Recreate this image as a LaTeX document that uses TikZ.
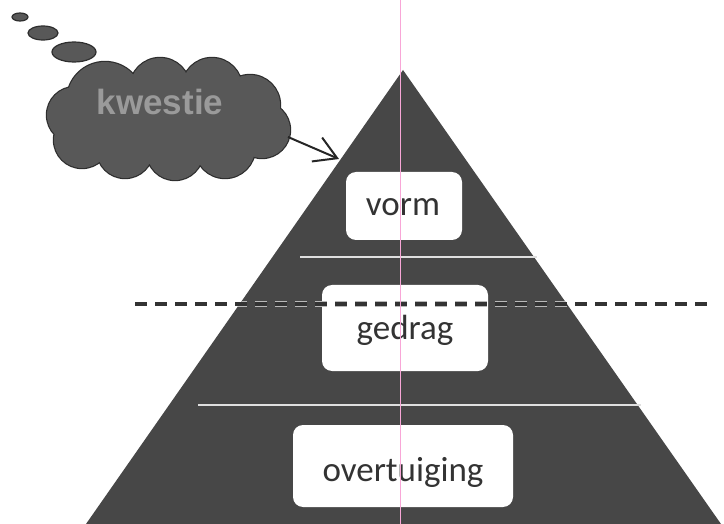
\documentclass[tikz,border=0pt]{standalone}
\usepackage{fontspec}
\setmainfont{Carlito}
\newfontfamily\kwfont{Liberation Sans}
\usetikzlibrary{arrows.meta}
\definecolor{pyr}{HTML}{474747}
\definecolor{cloudfill}{HTML}{585858}
\definecolor{cloudline}{HTML}{2E2E2E}
\definecolor{boxtext}{HTML}{333333}
\definecolor{kwtext}{HTML}{9A9A9A}
\tikzset{
  layerbox/.style={fill=white, rounded corners=10pt, inner sep=0pt},
  layertext/.style={anchor=base, inner sep=0pt, text=boxtext, font=\fontsize{35}{40}\selectfont},
  bubble/.style={fill=cloudfill, draw=cloudline, line width=1.2pt},
  divider/.style={draw=gray!25, line width=1.6pt},
  boundary/.style={dash pattern=on 12pt off 8pt, line width=3.5pt, draw=black!80},
  thinkarrow/.style={draw=black!85, line width=2pt, -{Straight Barb[length=22pt,width=26pt]}},
}
\begin{document}
\begin{tikzpicture}[x=1pt,y=-1pt]
\useasboundingbox (0,0) rectangle (724,524);
% pyramid
\coordinate (apex) at (403,70);
\coordinate (bl) at (86,524);
\coordinate (br) at (721,524);
\fill[pyr] (apex) -- (bl) -- (br) -- cycle;
% dividers
\coordinate (d1l) at (300,257); \coordinate (d1r) at (537,257);
\coordinate (d2l) at (198,405); \coordinate (d2r) at (641,405);
\draw[divider] (d1l) -- (d1r);
\draw[divider] (d2l) -- (d2r);
% boxes
\node[layerbox, minimum width=116pt, minimum height=68pt] (vormbox) at (404,206) {};
\node[layerbox, minimum width=166pt, minimum height=86pt] (gedragbox) at (405,328) {};
\node[layerbox, minimum width=220pt, minimum height=82pt] (overtbox) at (403,466) {};
\node[layertext] (vorm) at (403,216) {vorm};
\node[layertext] (gedrag) at (405,340) {gedrag};
\node[layertext] (overt) at (403,481) {overtuiging};
% dashed boundary
\coordinate (dl) at (135,304); \coordinate (dr) at (714,304);
\begin{scope}
\clip (apex) -- (bl) -- (br) -- cycle;
\draw[boundary, draw=gray!55, line width=5.5pt] (dl) -- (dr);
\end{scope}
\draw[boundary] (dl) -- (dr);
% thought bubbles
\draw[bubble] (20,17) ellipse [x radius=8, y radius=4];
\draw[bubble] (43,33) ellipse [x radius=15, y radius=7];
\draw[bubble] (74,52) ellipse [x radius=22, y radius=10];
% cloud
\def\cloudcircles{
  (105,100) circle[radius=38]
  (160,88) circle[radius=30]
  (212,88) circle[radius=30]
  (250,105) circle[radius=30]
  (262,130) circle[radius=28]
  (225,148) circle[radius=30]
  (175,152) circle[radius=28]
  (125,150) circle[radius=28]
  (82,140) circle[radius=28]
  (75,115) circle[radius=28]
  (165,120) circle[radius=45]
  (215,122) circle[radius=32]
}
\draw[cloudline, line width=2.4pt] \cloudcircles;
\fill[cloudfill] \cloudcircles;
\node[anchor=base, inner sep=0pt, font=\kwfont\bfseries\fontsize{35}{40}\selectfont, text=kwtext] (kw) at (160,115) {kwestie};
% arrow
\coordinate (ca) at (288,137);
\coordinate (tip) at (339,159);
\draw[thinkarrow] (ca) -- (tip);
% scan guide line
\coordinate (gt) at (400,0); \coordinate (gb) at (400,524);
\draw[magenta!35, line width=0.8pt] (gt) -- (gb);
\end{tikzpicture}
\end{document}
